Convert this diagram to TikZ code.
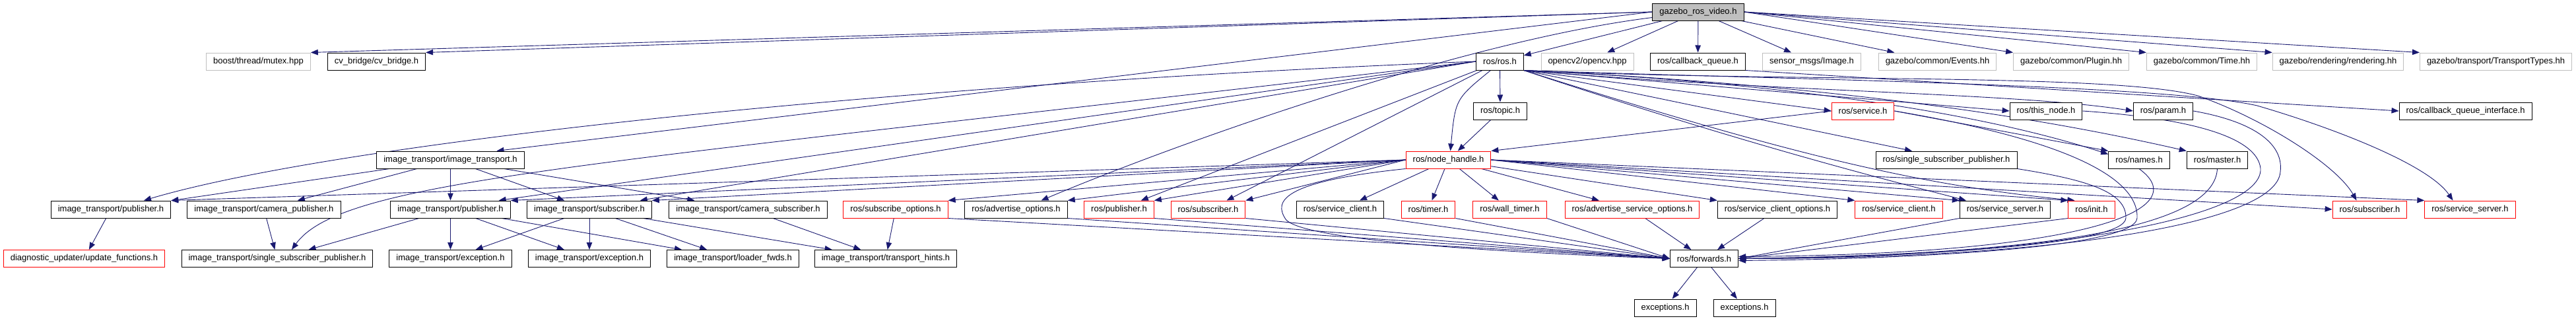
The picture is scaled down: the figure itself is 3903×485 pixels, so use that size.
\documentclass[tikz,border=0pt]{standalone}
\usepackage{fontspec}
\setmainfont{Liberation Sans}
\usetikzlibrary{arrows.meta}

\definecolor{edgeblue}{HTML}{191970}
\definecolor{extgray}{HTML}{BFBFBF}
\pgfdeclarelayer{background}
\pgfsetlayers{background,main}

\begin{document}
\begin{tikzpicture}[x=1pt, y=-1pt]
        \tikzstyle{every node}=[draw, fill=white, line width=1pt, minimum height=26pt, inner xsep=10.5pt, inner ysep=0pt, font=\fontsize{13}{15}\selectfont]
        \tikzstyle{ext}=[draw=extgray]
        \tikzstyle{trunc}=[draw=red]
        \tikzstyle{edge}=[draw=edgeblue, line width=0.9pt, -{Triangle[length=11pt, width=8.5pt]}]

        \useasboundingbox (0,0) rectangle (3903,485);

        % rank 0
        \node (video) [fill=extgray] at (2573,18) {gazebo\_ros\_video.h};

        % rank 1
        \node (mutex)     [ext] at (391.5,93)  {boost/thread/mutex.hpp};
        \node (cvbridge)        at (570.5,93)  {cv\_bridge/cv\_bridge.h};
        \node (rosros)          at (2272.5,93) {ros/ros.h};
        \node (opencv)    [ext] at (2405,93)   {opencv2/opencv.hpp};
        \node (cbqueue)         at (2572.5,93) {ros/callback\_queue.h};
        \node (image)     [ext] at (2745,93)   {sensor\_msgs/Image.h};
        \node (events)    [ext] at (2935.5,93) {gazebo/common/Events.hh};
        \node (plugin)    [ext] at (3138,93)   {gazebo/common/Plugin.hh};
        \node (time)      [ext] at (3336,93)   {gazebo/common/Time.hh};
        \node (rendering) [ext] at (3542.5,93) {gazebo/rendering/rendering.hh};
        \node (transport) [ext] at (3781.5,93) {gazebo/transport/TransportTypes.hh};

        % rank 2
        \node (topic)            at (2273,168)   {ros/topic.h};
        \node (service)  [trunc] at (2822.5,168) {ros/service.h};
        \node (thisnode)         at (3100,168)   {ros/this\_node.h};
        \node (param)            at (3277.5,168) {ros/param.h};
        \node (cbqiface)         at (3735.5,168) {ros/callback\_queue\_interface.h};

        % rank 3
        \node (imgtrans)           at (682.5,242)  {image\_transport/image\_transport.h};
        \node (nodehandle) [trunc] at (2194.5,242) {ros/node\_handle.h};
        \node (rosssp)             at (2949,242)   {ros/single\_subscriber\_publisher.h};
        \node (names)              at (3241,242)   {ros/names.h};
        \node (master)             at (3359.5,242) {ros/master.h};

        % rank 4
        \node (itpubA)                at (168,317)    {image\_transport/publisher.h};
        \node (itcampub)              at (400,317)    {image\_transport/camera\_publisher.h};
        \node (itpubB)                at (682.5,317)  {image\_transport/publisher.h};
        \node (itsub)                 at (893,317)    {image\_transport/subscriber.h};
        \node (itcamsub)              at (1133.5,317) {image\_transport/camera\_subscriber.h};
        \node (subopts)       [trunc] at (1357,317)   {ros/subscribe\_options.h};
        \node (advopts)               at (1539.5,317) {ros/advertise\_options.h};
        \node (rospub)        [trunc] at (1695.5,317) {ros/publisher.h};
        \node (rossubA)       [trunc] at (1830.5,317) {ros/subscriber.h};
        \node (srvclientA)            at (2030.5,317) {ros/service\_client.h};
        \node (timer)         [trunc] at (2164,317)   {ros/timer.h};
        \node (walltimer)     [trunc] at (2287.5,317) {ros/wall\_timer.h};
        \node (advsrvopts)    [trunc] at (2473,317)   {ros/advertise\_service\_options.h};
        \node (srvclientopts)         at (2693,317)   {ros/service\_client\_options.h};
        \node (srvclientB)    [trunc] at (2877,317)   {ros/service\_client.h};
        \node (srvserverA)            at (3038,317)   {ros/service\_server.h};
        \node (init)          [trunc] at (3169,317)   {ros/init.h};
        \node (rossubB)       [trunc] at (3590.5,317) {ros/subscriber.h};
        \node (srvserverB)    [trunc] at (3742.5,317) {ros/service\_server.h};

        % rank 5
        \node (diag)       [trunc] at (127.5,391.5)  {diagnostic\_updater/update\_functions.h};
        \node (itssp)              at (420,391.5)    {image\_transport/single\_subscriber\_publisher.h};
        \node (itexcA)             at (682.5,391.5)  {image\_transport/exception.h};
        \node (itexcB)             at (893,391.5)    {image\_transport/exception.h};
        \node (loaderfwds)         at (1110.5,391.5) {image\_transport/loader\_fwds.h};
        \node (hints)              at (1342,391.5)   {image\_transport/transport\_hints.h};
        \node (forwards)           at (2582,391.5)   {ros/forwards.h};

        % rank 6
        \node (excA) at (2523,466) {exceptions.h};
        \node (excB) at (2643,466) {exceptions.h};

        \begin{pgfonlayer}{background}
        \foreach \a/\b in {video/rosros, video/opencv, video/cbqueue, video/image, video/events,
                           rosros/topic, topic/nodehandle,
                           imgtrans/itpubA, imgtrans/itcampub, imgtrans/itpubB, imgtrans/itsub, imgtrans/itcamsub,
                           itpubA/diag, itcampub/itssp, itpubB/itssp, itpubB/itexcA, itpubB/itexcB, itpubB/loaderfwds,
                           itsub/itexcA, itsub/itexcB, itsub/loaderfwds, itsub/hints, itcamsub/hints, subopts/hints,
                           nodehandle/srvclientA, nodehandle/timer, nodehandle/walltimer, nodehandle/advsrvopts,
                           advsrvopts/forwards, srvclientopts/forwards, forwards/excA, forwards/excB}
            \draw[edge] (\a) -- (\b);

        \foreach \a/\b in {video.west/mutex.north east, video.west/cvbridge.north east,
                           video.east/plugin.north west, video.east/time.north west,
                           video.east/rendering.north west, video.east/transport.north west,
                           cbqueue.south east/cbqiface.west,
                           rosros.south east/service.west, rosros.south east/thisnode.west,
                           nodehandle.west/itpubA.north east, nodehandle.west/itpubB.north east,
                           nodehandle.west/itsub.north east, nodehandle.west/subopts.north east,
                           nodehandle.west/advopts.north east, nodehandle.west/rospub.north east,
                           nodehandle.west/rossubA.north east, nodehandle/srvclientopts.north west,
                           nodehandle.east/srvclientB.north west, nodehandle.east/srvserverA.north west,
                           nodehandle.east/init.north west, nodehandle.east/rossubB.west,
                           nodehandle.east/srvserverB.north west,
                           service.west/nodehandle.north east, service.east/names.north west,
                           subopts.south east/forwards.west, advopts.south east/forwards.west,
                           rospub.south east/forwards.west, rossubA.south east/forwards.west,
                           srvclientA.south east/forwards.west, timer.south east/forwards.west,
                           walltimer.south east/forwards.west,
                           srvserverA.south west/forwards.east, init.south west/forwards.east}
            \draw[edge] (\a) -- (\b);

        % long and bent ones
        \draw[edge] (video.west) -- ([xshift=70pt]imgtrans.north);
        \draw[edge] (video) .. controls (2230,60) and (1800,210) .. ([xshift=38pt]advopts.north);
        \draw[edge] ([xshift=-14pt]rosros.south) .. controls (2205,150) .. ([xshift=3pt]nodehandle.north);
        \draw[edge] (rosros.west) .. controls (1300,130) and (500,220) .. ([xshift=50pt]itpubA.north);
        \draw[edge] (rosros.west) .. controls (900,250) and (520,270) .. ([xshift=22pt]itssp.north);
        \draw[edge] (rosros.west) -- ([xshift=-18pt]itpubB.north east);
        \draw[edge] (rosros.west) -- ([xshift=-18pt]itsub.north east);
        \draw[edge] (rosros) -- ([xshift=-20pt]rospub.north east);
        \draw[edge] (rosros) -- ([xshift=28pt]rossubA.north);
        \draw[edge] (rosros.south east) -- ([xshift=-52pt]rosssp.north);
        \draw[edge] (rosros.south east) .. controls (2700,140) and (3050,140) .. (param.west);
        \draw[edge] (rosros.south east) .. controls (2700,125) and (3000,170) .. ([yshift=-5pt]names.north west);
        \draw[edge] (rosros.south east) .. controls (2800,130) and (3100,180) .. (master.north west);
        \draw[edge] (rosros.south east) .. controls (2700,230) and (2900,280) .. ([xshift=10pt]init.north west);
        \draw[edge] (rosros.south east) .. controls (2650,220) and (2850,270) .. ([xshift=10pt]srvserverA.north west);
        \draw[edge] (rosros.south east) .. controls (2700,125) and (3200,110) .. (3330,145)
                    .. controls (3430,180) and (3540,250) .. ([xshift=-20pt]rossubB.north);
        \draw[edge] (rosros.south east) .. controls (2700,120) and (3280,128) .. (3420,160)
                    .. controls (3540,195) and (3680,250) .. ([xshift=-26pt]srvserverB.north);
        \draw[edge] (nodehandle.south west) .. controls (1940,275) and (1930,305) .. (1948,332)
                    .. controls (1975,368) and (2350,385) .. (forwards.west);
        \draw[edge] (service.east) .. controls (3180,220) and (3240,285) .. (3238,330)
                    .. controls (3236,375) and (2900,392) .. ([yshift=-3pt]forwards.east);
        \draw[edge] (rosssp.south east) .. controls (3160,272) and (3222,290) .. (3221,330)
                    .. controls (3220,372) and (2900,388) .. (forwards.east);
        \draw[edge] (names.south) .. controls (3330,320) and (3150,385) .. ([yshift=3pt]forwards.east);
        \draw[edge] (master.south) .. controls (3355,345) and (3100,385) .. (forwards.east);
        \draw[edge] (thisnode.east) .. controls (3330,180) and (3420,210) .. (3425,255)
                    .. controls (3430,330) and (3100,390) .. (forwards.east);
        \draw[edge] (param.east) .. controls (3420,185) and (3460,220) .. (3455,260)
                    .. controls (3450,340) and (3100,392) .. (forwards.east);
        \end{pgfonlayer}
\end{tikzpicture}
\end{document}
